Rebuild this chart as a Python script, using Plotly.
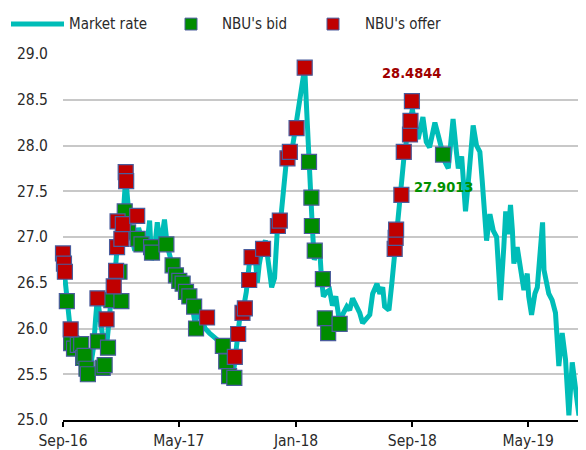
import plotly.graph_objects as go

# Market rate (UAH per USD)
mkt_dates = [
    "2016-09-01", "2016-09-07", "2016-09-10", "2016-09-15", "2016-09-19", "2016-09-25",
    "2016-10-02", "2016-10-10", "2016-10-16", "2016-10-22", "2016-10-29", "2016-11-04",
    "2016-11-08", "2016-11-12", "2016-11-19", "2016-11-25", "2016-12-01", "2016-12-05",
    "2016-12-11", "2016-12-18", "2016-12-24", "2016-12-30", "2017-01-05", "2017-01-10",
    "2017-01-14", "2017-01-20", "2017-01-29", "2017-02-06", "2017-02-14", "2017-02-22",
    "2017-03-01", "2017-03-05", "2017-03-11", "2017-03-17", "2017-03-24", "2017-04-01",
    "2017-04-07", "2017-04-11", "2017-04-17", "2017-04-23", "2017-04-30", "2017-05-08",
    "2017-05-14", "2017-05-21", "2017-05-29", "2017-06-04", "2017-06-11", "2017-06-19",
    "2017-06-25", "2017-07-04", "2017-07-12", "2017-07-20", "2017-07-28", "2017-08-04",
    "2017-08-10", "2017-08-16", "2017-08-23", "2017-08-27", "2017-08-31", "2017-09-06",
    "2017-09-13", "2017-09-19", "2017-09-25", "2017-10-02", "2017-10-08", "2017-10-12",
    "2017-10-16", "2017-10-23", "2017-10-29", "2017-11-04", "2017-11-11", "2017-11-17",
    "2017-11-23", "2017-11-30", "2017-12-06", "2017-12-12", "2017-12-19", "2017-12-25",
    "2017-12-31", "2018-01-06", "2018-01-10", "2018-01-14", "2018-01-19", "2018-01-23",
    "2018-01-27", "2018-01-31", "2018-02-04", "2018-02-08", "2018-02-15", "2018-02-19",
    "2018-02-23", "2018-02-27", "2018-03-06", "2018-03-12", "2018-03-18", "2018-03-25",
    "2018-04-02", "2018-04-08", "2018-04-17", "2018-04-23", "2018-04-29", "2018-05-08",
    "2018-05-14", "2018-05-20", "2018-05-29", "2018-06-04", "2018-06-10", "2018-06-19",
    "2018-06-25", "2018-07-01", "2018-07-05", "2018-07-14", "2018-07-20", "2018-07-26",
    "2018-08-02", "2018-08-08", "2018-08-14", "2018-08-21", "2018-08-27", "2018-09-01",
    "2018-09-05", "2018-09-13", "2018-09-23", "2018-09-30", "2018-10-07", "2018-10-18",
    "2018-10-25", "2018-11-01", "2018-11-08", "2018-11-15", "2018-11-20", "2018-11-25",
    "2018-12-02", "2018-12-06", "2018-12-13", "2018-12-18", "2018-12-21", "2018-12-27",
    "2019-01-02", "2019-01-06", "2019-01-13", "2019-01-20", "2019-01-25", "2019-01-30",
    "2019-02-03", "2019-02-10", "2019-02-17", "2019-02-24", "2019-02-27", "2019-03-04",
    "2019-03-11", "2019-03-15", "2019-03-20", "2019-03-25", "2019-03-29", "2019-04-01",
    "2019-04-08", "2019-04-15", "2019-04-22", "2019-04-29", "2019-05-02", "2019-05-08",
    "2019-05-15", "2019-05-20", "2019-05-25", "2019-05-31", "2019-06-03", "2019-06-08",
    "2019-06-13", "2019-06-20", "2019-06-27", "2019-07-04", "2019-07-11", "2019-07-18",
    "2019-07-25", "2019-08-01", "2019-08-08", "2019-08-15", "2019-08-21", "2019-08-25",
    "2019-08-29",
]
mkt_vals = [
    26.75, 26.45, 26.30, 26.05, 25.85, 25.80,
    25.72, 25.78, 25.65, 25.55, 25.60, 25.80,
    26.10, 26.35, 26.05, 25.85, 25.80, 26.05,
    26.35, 26.55, 26.95, 27.15, 27.25, 27.65,
    27.35, 27.05, 26.85, 27.10, 26.95, 26.85,
    27.18, 26.75, 26.85, 27.16, 26.90, 27.19,
    26.90, 26.80, 26.70, 26.58, 26.50, 26.45,
    26.38, 26.30, 26.25, 26.05, 26.20, 26.10,
    26.00, 25.95, 25.92, 25.88, 25.80, 25.65,
    25.55, 25.45, 25.50, 25.72, 25.95, 26.15,
    26.22, 26.40, 26.70, 26.80, 26.75, 26.50,
    26.70, 26.90, 26.96, 26.70, 26.45, 26.55,
    27.10, 27.20, 27.55, 27.85, 27.95, 28.00,
    28.20, 28.40, 28.55, 28.65, 28.85, 28.40,
    27.90, 27.45, 27.10, 26.75, 26.85, 26.90,
    26.55, 26.35, 26.40, 26.42, 26.25, 26.35,
    26.06, 26.15, 26.24, 26.20, 26.33, 26.25,
    26.17, 26.06, 26.12, 26.15, 26.38, 26.49,
    26.38, 26.45, 26.24, 26.20, 26.49, 26.85,
    27.21, 27.50, 27.85, 28.10, 28.25, 28.40,
    28.25, 28.07, 28.31, 28.04, 27.98, 28.25,
    28.11, 27.97, 27.82, 27.75, 28.04, 28.29,
    27.93, 27.75, 27.88, 27.53, 27.28, 27.61,
    27.97, 28.22, 28.00, 27.93, 27.61, 27.32,
    26.96, 27.25, 27.07, 27.00, 26.71, 26.31,
    26.89, 27.28, 27.03, 27.35, 27.07, 26.71,
    26.89, 26.67, 26.42, 26.60, 26.35, 26.15,
    26.38, 26.45, 26.81, 27.16, 26.64, 26.49,
    26.38, 26.31, 26.17, 25.59, 25.95, 25.66,
    25.05, 25.63, 25.30, 25.05, 25.34, 25.23,
    25.25,
]

# NBU's bid (FX purchases)
bid_dates = [
    "2016-09-09", "2016-09-18", "2016-09-24", "2016-10-02", "2016-10-09", "2016-10-13",
    "2016-10-16", "2016-10-20", "2016-10-23", "2016-11-13", "2016-11-23", "2016-11-27",
    "2016-12-04", "2016-12-11", "2016-12-28", "2017-01-01", "2017-01-08", "2017-01-15",
    "2017-02-04", "2017-02-12", "2017-03-04", "2017-03-06", "2017-04-05", "2017-04-18",
    "2017-04-25", "2017-05-02", "2017-05-09", "2017-05-16", "2017-05-23", "2017-06-02",
    "2017-06-06", "2017-08-01", "2017-08-08", "2017-08-14", "2017-08-25",
    "2018-01-28", "2018-02-02", "2018-02-03", "2018-02-09", "2018-02-26", "2018-03-02",
    "2018-03-09", "2018-04-02", "2018-11-04",
]
bid_vals = [
    26.30, 25.84, 25.78, 25.82, 25.83, 25.68,
    25.70, 25.56, 25.50, 25.86, 25.57, 25.60,
    25.79, 26.31, 26.62, 26.30, 27.28, 27.05,
    26.98, 26.92, 26.89, 26.83, 26.92, 26.69,
    26.58, 26.52, 26.49, 26.40, 26.35, 26.24,
    26.00, 25.81, 25.64, 25.48, 25.46,
    27.82, 27.43, 27.12, 26.85, 26.54, 26.11,
    25.95, 26.05, 27.9013,
]

# NBU's offer (FX sales)
offer_dates = [
    "2016-09-01", "2016-09-03", "2016-09-05", "2016-09-17", "2016-11-12", "2016-12-01",
    "2016-12-16", "2016-12-21", "2016-12-23", "2016-12-24", "2017-01-01", "2017-01-04",
    "2017-01-10", "2017-01-11", "2017-02-03", "2017-06-29", "2017-08-26", "2017-09-02",
    "2017-09-11", "2017-09-16", "2017-09-25", "2017-09-30", "2017-10-24", "2017-11-24",
    "2017-11-28", "2017-12-14", "2017-12-19", "2018-01-02", "2018-01-19",
    "2018-07-26", "2018-07-28", "2018-07-29", "2018-08-09", "2018-08-14", "2018-08-27",
    "2018-08-28", "2018-08-31",
]
offer_vals = [
    26.82, 26.71, 26.62, 25.99, 26.33, 26.10,
    26.46, 26.63, 26.89, 27.17, 26.98, 27.14,
    27.71, 27.61, 27.23, 26.12, 25.69, 25.94,
    26.17, 26.22, 26.53, 26.78, 26.87, 27.12,
    27.18, 27.86, 27.93, 28.19, 28.85,
    26.87, 26.99, 27.08, 27.46, 27.93, 28.12,
    28.27, 28.4844,
]

y_ticks = [25.0, 25.5, 26.0, 26.5, 27.0, 27.5, 28.0, 28.5, 29.0]

assert len(mkt_dates) == len(mkt_vals)
assert len(bid_dates) == len(bid_vals)
assert len(offer_dates) == len(offer_vals)

TEAL = "#00BDB8"
GREEN = "#008C00"
RED = "#C00000"
EDGE = "#4A5C9C"
FONT = "DejaVu Sans Condensed, Liberation Sans Narrow, Arial Narrow, sans-serif"
TXT = "#2a2a2a"

fig = go.Figure()
fig.add_trace(go.Scatter(
    x=mkt_dates, y=mkt_vals, mode="lines", name="Market rate",
    line=dict(color=TEAL, width=5), showlegend=False, cliponaxis=False,
))
fig.add_trace(go.Scatter(
    x=bid_dates, y=bid_vals, mode="markers", name="NBU's bid",
    marker=dict(symbol="square", size=15, color=GREEN, line=dict(color=EDGE, width=1.2)),
    showlegend=False, cliponaxis=False,
))
fig.add_trace(go.Scatter(
    x=offer_dates, y=offer_vals, mode="markers", name="NBU's offer",
    marker=dict(symbol="square", size=15, color=RED, line=dict(color=EDGE, width=1.2)),
    showlegend=False, cliponaxis=False,
))

# The page body has an 8 px margin, so the figure is drawn 8 px in from the
# window's top-left corner. Geometry below is expressed in window pixels.
OFF = 8
W, H = 586 - OFF, 450 - OFF
PLOT_L, PLOT_R, PLOT_T, PLOT_B = 63, 586, 54.3, 424.7
ML, MR = PLOT_L - OFF, 586 - PLOT_R
MT, MB = PLOT_T - OFF, 450 - PLOT_B
PW, PH = PLOT_R - PLOT_L, PLOT_B - PLOT_T


def px(xp):
    return (xp - PLOT_L) / PW


def py(yp):
    return (PLOT_B - yp) / PH


shapes = []
annotations = []
leg_y = 24
# legend: market rate line
shapes.append(dict(type="line", xref="paper", yref="paper",
                   x0=px(11), x1=px(64), y0=py(leg_y), y1=py(leg_y),
                   line=dict(color=TEAL, width=5)))
annotations.append(dict(xref="paper", yref="paper", x=px(67), y=py(leg_y),
                        text="Market rate", showarrow=False, xanchor="left", yanchor="middle",
                        font=dict(family=FONT, size=15, color=TXT)))
for cx, col, label, tx in [(191, GREEN, "NBU's bid", 220), (333, RED, "NBU's offer", 363)]:
    shapes.append(dict(type="rect", xref="paper", yref="paper",
                       x0=px(cx - 6), x1=px(cx + 6), y0=py(leg_y + 6), y1=py(leg_y - 6),
                       fillcolor=col, line=dict(color=EDGE, width=1)))
    annotations.append(dict(xref="paper", yref="paper", x=px(tx), y=py(leg_y),
                            text=label, showarrow=False, xanchor="left", yanchor="middle",
                            font=dict(family=FONT, size=15, color=TXT)))

# data labels
annotations.append(dict(x="2018-08-31", y=28.4844, xref="x", yref="y", text="<b>28.4844</b>",
                        showarrow=False, yshift=28, xanchor="center", yanchor="middle",
                        font=dict(family=FONT, size=14.5, color="#A00000")))
annotations.append(dict(x="2018-11-04", y=27.9013, xref="x", yref="y", text="<b>27.9013</b>",
                        showarrow=False, yshift=-32, xanchor="center", yanchor="middle",
                        font=dict(family=FONT, size=14.5, color="#009000")))

fig.update_layout(
    width=W, height=H,
    margin=dict(l=ML, r=MR, t=MT, b=MB),
    paper_bgcolor="white", plot_bgcolor="white",
    font=dict(family=FONT, size=15.5, color=TXT),
    shapes=shapes, annotations=annotations,
    xaxis=dict(
        type="date", range=["2016-09-01", "2019-08-29 18:00"],
        tick0="2016-09-01", dtick="M8", tickformat="%b-%y",
        showgrid=False, showline=True, linecolor="black", linewidth=2,
        ticks="outside", ticklen=5, tickwidth=2, tickcolor="black",
        tickfont=dict(family=FONT, size=15.5, color=TXT), zeroline=False,
    ),
    yaxis=dict(
        range=[25.0, 29.0], tickvals=y_ticks, ticktext=[f"{v:.1f}" for v in y_ticks],
        showgrid=True, gridcolor="#C8C8C8", gridwidth=2, zeroline=False,
        showline=False, ticks="", ticklabelstandoff=14,
        tickfont=dict(family=FONT, size=15.5, color=TXT),
    ),
)

fig.write_html("out.html")
